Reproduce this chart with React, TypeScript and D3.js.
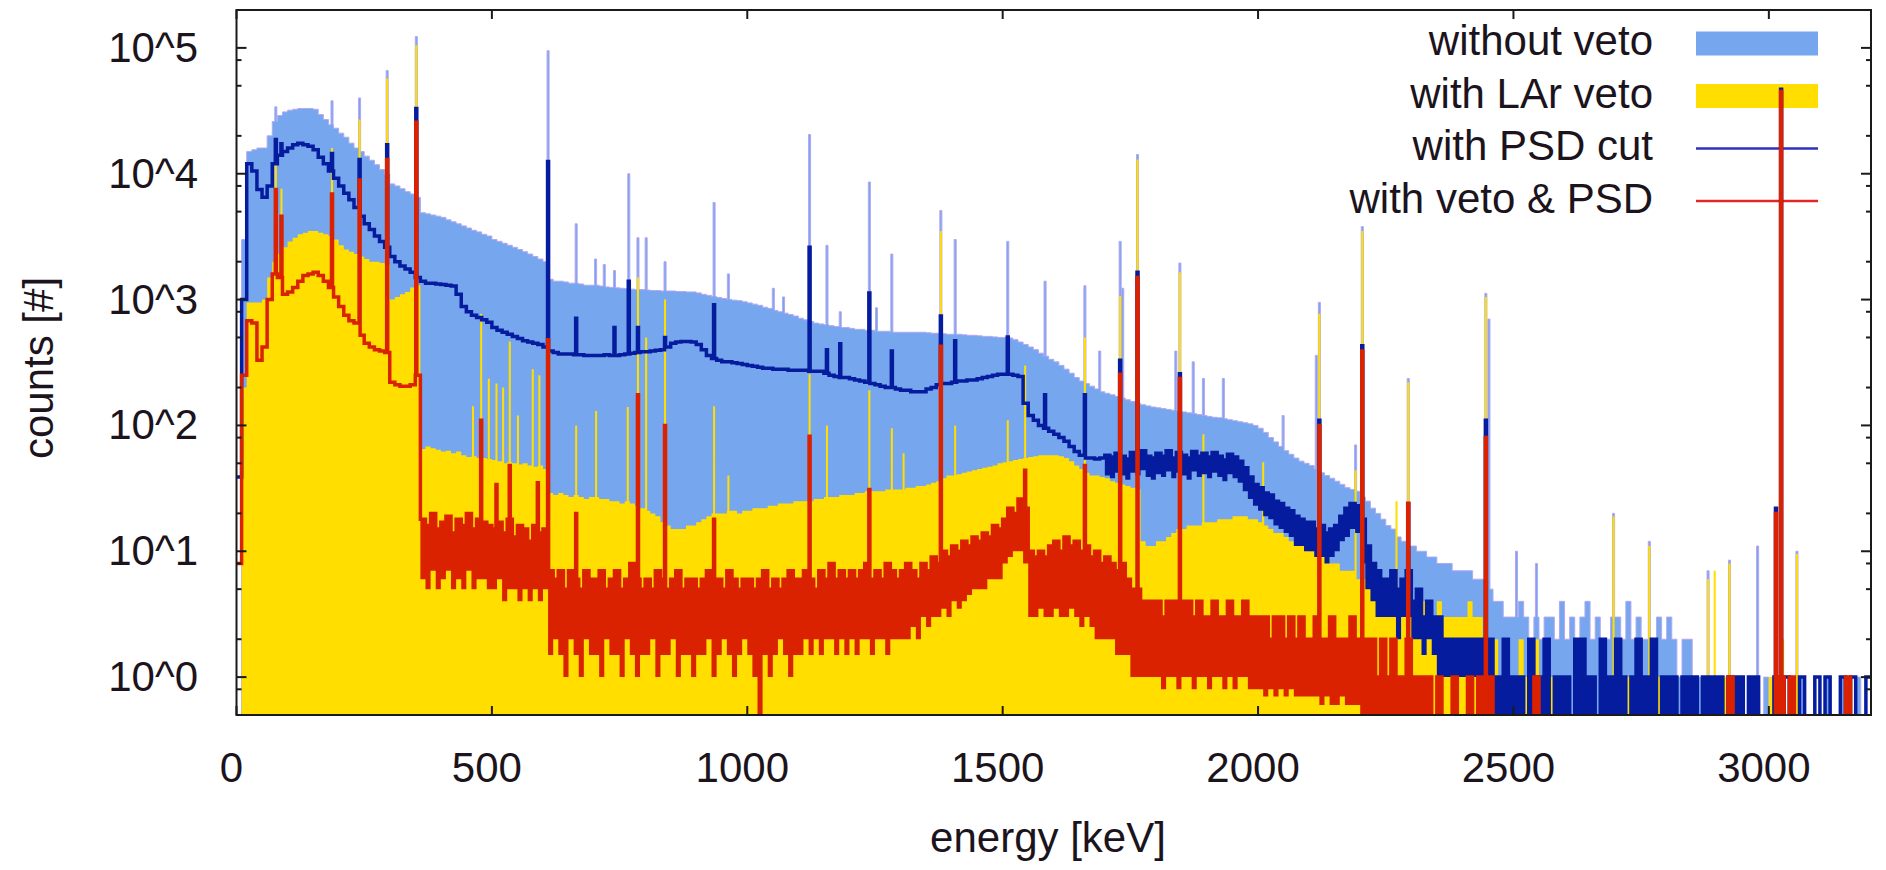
import React from "react";
import * as d3 from "d3";

// ---------------- data (10 keV bins, counts) ----------------
const BIN_WIDTH = 10;
const energyTicks = [0, 500, 1000, 1500, 2000, 2500, 3000];
const countTicks = [1, 10, 100, 1000, 10000, 100000];
const countTickLabels = ["10^0", "10^1", "10^2", "10^3", "10^4", "10^5"];
const minorFactors = [2, 5, 8];
const seriesNames = ["without veto", "with LAr veto", "with PSD cut", "with veto & PSD"];

const withoutVeto = [
  0, 3000, 15000, 15500, 16000, 16000, 20000, 26000, 29000, 31000,
  32000, 32500, 33000, 33000, 33000, 32500, 29500, 27000, 24500, 23000,
  21000, 19500, 17500, 16000, 15000, 13800, 12800, 11800, 10800, 9900,
  8300, 8000, 7600, 7200, 6900, 6500, 4900, 4800, 4700, 4600,
  4500, 4300, 4150, 4000, 3850, 3700, 3550, 3450, 3300, 3200,
  3000, 2900, 2800, 2700, 2600, 2500, 2400, 2300, 2200, 2100,
  2000, 1450, 1400, 1400, 1380, 1350, 1350, 1330, 1300, 1300,
  1300, 1280, 1260, 1250, 1240, 1230, 1220, 1210, 1200, 1200,
  1190, 1180, 1180, 1170, 1170, 1170, 1160, 1160, 1150, 1150,
  1130, 1100, 1080, 1060, 1040, 1020, 1000, 990, 980, 960,
  940, 920, 900, 870, 850, 820, 800, 780, 760, 740,
  710, 690, 670, 650, 640, 630, 620, 610, 600, 600,
  590, 580, 580, 570, 570, 560, 560, 560, 550, 550,
  550, 550, 550, 550, 550, 545, 540, 540, 535, 530,
  530, 530, 525, 520, 520, 515, 510, 510, 505, 500,
  500, 495, 480, 460, 440, 420, 400, 375, 355, 335,
  320, 300, 280, 260, 240, 225, 215, 205, 195, 185,
  180, 175, 170, 165, 160, 155, 150, 146, 143, 140,
  138, 136, 134, 132, 130, 128, 126, 124, 122, 120,
  118, 116, 115, 113, 111, 109, 107, 105, 103, 100,
  95, 88, 80, 74, 68, 63, 59, 55, 52, 50,
  48, 45, 42, 40, 38, 36, 34, 32, 31, 30,
  27, 25, 22, 20, 18, 16, 15, 13, 12, 11,
  11, 10, 10, 9, 9, 8, 8, 8, 7, 7,
  7, 7, 6, 6, 6, 5, 4, 4, 3, 3,
  3, 4, 3, 2, 3, 2, 3, 3, 2, 4,
  2, 3, 2, 3, 4, 2, 3, 2, 2, 3,
  3, 2, 4, 2, 3, 2, 2, 2, 3, 2,
  3, 2, 1, 2, 2, 1, 1, 0, 1, 0,
  0, 1, 0, 1, 0, 0, 1, 0, 0, 1,
  0, 1, 0, 0, 0, 0, 1, 0, 0, 0,
  0, 1, 0, 0, 1, 0, 0, 1, 0, 0,
];

const withLArVeto = [
  0, 200, 950, 950, 950, 1000, 1500, 2000, 2300, 2600,
  2900, 3100, 3300, 3400, 3500, 3500, 3400, 3300, 3200, 3000,
  2700, 2500, 2400, 2300, 2200, 2100, 2000, 2000, 1950, 1900,
  1000, 1050, 1100, 1150, 1250, 1300, 65, 68, 66, 64,
  62, 63, 60, 62, 58, 56, 57, 55, 55, 54,
  53, 52, 50, 51, 50, 49, 50, 48, 47, 48,
  45, 29, 28, 29, 28, 27, 28, 27, 26, 27,
  27, 26, 26, 25, 25, 24, 25, 24, 23, 22,
  21, 20, 19, 17, 16, 15, 15, 15, 16, 16,
  17, 18, 19, 20, 20, 20, 21, 21, 20, 21,
  21, 22, 22, 22, 23, 23, 24, 24, 24, 25,
  25, 25, 25, 26, 26, 27, 27, 27, 28, 28,
  28, 29, 29, 30, 30, 30, 30, 31, 31, 31,
  31, 32, 32, 33, 33, 34, 35, 36, 38, 40,
  40, 41, 42, 43, 44, 45, 46, 47, 48, 50,
  51, 52, 53, 54, 55, 56, 57, 58, 58, 58,
  58, 57, 55, 52, 48, 45, 42, 40, 40, 39,
  38, 36, 35, 34, 33, 32, 31, 12, 11, 11,
  12, 12, 13, 14, 15, 15, 16, 16, 16, 17,
  17, 17, 18, 18, 18, 19, 19, 19, 18, 18,
  17, 16, 15, 14, 14, 13, 12, 12, 11, 11,
  10, 10, 9, 9, 8, 8, 7, 7, 7, 6,
  6, 6, 5, 5, 5, 5, 4, 4, 4, 4,
  4, 5, 4, 4, 3, 4, 3, 3, 3, 3,
  3, 4, 3, 3, 2, 2, 2, 1, 2, 1,
  1, 2, 1, 1, 2, 1, 0, 1, 1, 0,
  1, 0, 0, 1, 0, 0, 0, 1, 0, 0,
  0, 0, 1, 0, 0, 0, 0, 0, 1, 1,
  0, 0, 0, 0, 0, 0, 0, 0, 0, 0,
  0, 1, 1, 0, 0, 0, 0, 0, 0, 0,
  1, 1, 2, 0, 0, 0, 0, 0, 0, 0,
  0, 0, 0, 0, 0, 0, 0, 0, 0, 0,
];

// PSD cut: upper envelope of each 10 keV bin
const withPSDCut = [
  39, 1000, 12000, 10500, 7500, 6500, 8000, 12000, 14000, 15000,
  16000, 17000, 17500, 17000, 16500, 15500, 13500, 12000, 10500, 9200,
  8000, 7000, 6200, 5400, 4600, 4000, 3600, 3200, 2900, 2600,
  2200, 2000, 1850, 1750, 1650, 1500, 1400, 1350, 1350, 1330,
  1320, 1300, 1280, 1100, 880, 800, 750, 720, 690, 660,
  600, 570, 550, 530, 510, 490, 470, 460, 450, 440,
  420, 390, 380, 370, 370, 370, 365, 365, 360, 360,
  360, 360, 365, 360, 360, 365, 370, 375, 380, 385,
  385, 390, 395, 400, 420, 450, 460, 465, 465, 460,
  440, 400, 360, 340, 330, 320, 320, 315, 310, 305,
  300, 295, 290, 285, 285, 280, 280, 280, 275, 275,
  275, 275, 270, 270, 270, 260, 250, 245, 240, 240,
  235, 230, 225, 220, 215, 210, 205, 200, 200, 195,
  190, 190, 185, 185, 185, 195, 200, 210, 215, 215,
  220, 225, 225, 230, 230, 235, 240, 245, 250, 255,
  255, 255, 250, 245, 150, 120, 110, 100, 95, 90,
  85, 80, 75, 68, 62, 58, 55, 55, 54, 55,
  58, 56, 60, 57, 54, 61, 58, 63, 57, 55,
  60, 57, 63, 55, 61, 58, 55, 62, 57, 60,
  56, 61, 57, 53, 59, 56, 52, 46, 39, 34,
  32, 29, 28, 25, 24, 22, 21, 19, 18, 17,
  17, 15, 16, 14, 15, 16, 19, 22, 24, 23,
  18, 11, 8, 7, 6, 6, 7, 5, 6, 7,
  4, 5, 3, 4, 3, 3, 2, 2, 2, 2,
  2, 2, 2, 2, 2, 2, 1, 1, 2, 1,
  1, 1, 0, 2, 1, 1, 2, 0, 1, 1,
  1, 0, 2, 2, 1, 1, 0, 2, 1, 1,
  2, 1, 0, 1, 2, 1, 1, 2, 0, 1,
  1, 1, 0, 1, 1, 1, 0, 1, 1, 1,
  1, 0, 1, 1, 1, 0, 1, 1, 0, 0,
  0, 1, 0, 1, 0, 0, 1, 0, 0, 1,
  0, 1, 0, 0, 1, 0, 1, 0, 0, 1,
];
// PSD cut: lower envelope of the bin-to-bin fluctuation, from 1700 keV on
const PSD_LOW_FIRST_BIN = 170;
const withPSDCutLow = [
  40, 38, 42, 40, 37, 42, 40, 44, 39, 37,
  41, 39, 43, 38, 42, 40, 37, 43, 39, 41,
  38, 42, 39, 36, 41, 38, 35, 30, 26, 23,
  21, 19, 18, 16, 15, 14, 13, 11, 11, 10,
  10, 9, 9, 8, 9, 10, 12, 13, 15, 14,
  8, 5, 4, 3, 3, 3, 3, 2, 3, 3,
  2, 2, 1.5, 2, 1.5, 1, 1, 1, 1, 1,
  1, 1, 1, 1, 1, 1, 0, 0, 0, 0,
  0, 0, 0, 0, 0, 0, 0, 0, 0, 0,
  0, 0, 0, 0, 0, 0, 0, 0, 0, 0,
  0, 0, 0, 0, 0, 0, 0, 0, 0, 0,
  0, 0, 0, 0, 0, 0, 0, 0, 0, 0,
  0, 0, 0, 0, 0, 0, 0, 0, 0, 0,
  0, 1, 0, 1, 0, 0, 1, 0, 0, 1,
  0, 1, 0, 0, 1, 0, 1, 0, 0, 1,
];

// veto & PSD: upper envelope of each 10 keV bin
const withVetoAndPSD = [
  8, 250, 680, 650, 330, 420, 1000, 1600, 1500, 1100,
  1150, 1250, 1400, 1550, 1600, 1650, 1550, 1400, 1250, 1050,
  880, 750, 680, 650, 520, 450, 420, 400, 390, 380,
  220, 210, 205, 205, 210, 250, 18, 16, 20, 15,
  17, 19, 14, 18, 16, 20, 15, 18, 17, 16,
  15, 17, 14, 18, 13, 16, 15, 12, 16, 14,
  15, 7, 6, 7, 5, 7, 6, 5, 7, 6,
  6, 7, 5, 6, 7, 5, 6, 8, 6, 5,
  6, 5, 7, 6, 5, 6, 7, 5, 6, 6,
  5, 6, 7, 5, 6, 5, 7, 6, 5, 6,
  6, 5, 6, 7, 5, 6, 5, 6, 7, 6,
  6, 7, 6, 5, 7, 6, 8, 6, 7, 6,
  7, 6, 7, 8, 6, 7, 6, 8, 7, 6,
  7, 8, 7, 6, 8, 7, 9, 8, 10, 9,
  11, 10, 12, 11, 13, 12, 14, 13, 16, 15,
  18, 22, 20, 26, 22, 10, 9, 10, 9, 11,
  12, 10, 13, 11, 12, 10, 11, 9, 10, 8,
  9, 8, 7, 8, 6, 5, 5, 4, 4, 4,
  4, 3, 4, 4, 3, 4, 4, 3, 4, 3,
  3, 4, 3, 3, 4, 3, 3, 4, 3, 3,
  3, 3, 2, 3, 3, 2, 3, 2, 3, 2,
  2, 3, 2, 2, 3, 2, 2, 2, 3, 2,
  2, 2, 2, 1, 2, 1, 2, 1, 1, 2,
  1, 1, 1, 1, 0, 1, 0, 0, 1, 0,
  0, 1, 0, 1, 1, 1, 0, 0, 0, 0,
  0, 0, 0, 0, 1, 0, 0, 0, 0, 0,
  0, 0, 0, 0, 0, 0, 0, 0, 0, 0,
  0, 0, 0, 0, 0, 0, 0, 0, 0, 0,
  0, 0, 0, 0, 0, 0, 0, 0, 0, 0,
  0, 0, 1, 0, 0, 0, 0, 0, 0, 0,
  0, 0, 1, 0, 1, 0, 0, 0, 0, 0,
  0, 0, 0, 0, 0, 1, 0, 0, 0, 0,
];
// veto & PSD: lower envelope of the fluctuation, from 360 keV on
const BOTH_LOW_FIRST_BIN = 36;
const withVetoAndPSDLow = [
  6, 5, 7, 5,
  6, 7, 5, 6, 5, 7, 5, 6, 6, 5,
  5, 6, 4, 5, 5, 4, 5, 4, 5, 4,
  5, 1.5, 2, 1.5, 1, 2, 1.5, 1, 2, 1.5,
  1.5, 1, 2, 1.5, 1.5, 1, 2, 1.5, 1, 1.5,
  1.5, 2, 1, 1.5, 1.5, 2, 1, 1.5, 1.5, 1,
  1.5, 1.5, 2, 1, 1.5, 2, 1.5, 1, 1.5, 2,
  1.5, 1, 0, 1.5, 1, 1.5, 2, 1.5, 1, 1.5,
  1.5, 2, 1.5, 2, 1.5, 2, 2, 1.5, 2, 1.5,
  2, 1.5, 2, 2, 1.5, 2, 2, 1.5, 2, 2,
  2, 2, 2.5, 2, 3, 2.5, 3, 3, 3.5, 3,
  4, 3.5, 4, 4.5, 5, 5, 5, 6, 6, 6,
  8, 9, 10, 10, 8, 3, 3, 3.5, 3, 3,
  3.5, 3, 3, 3.5, 3, 2.5, 3, 2.5, 2, 2,
  2, 2, 1.5, 1.5, 1.5, 1, 1, 1, 1, 1,
  1, 0.8, 1, 1, 0.8, 1, 1, 0.8, 1, 1,
  0.8, 1, 1, 0.8, 1, 0.8, 1, 1, 0.8, 0.8,
  0.8, 0.7, 0.8, 0.7, 0.8, 0.7, 0.8, 0.7, 0.7, 0.7,
  0.7, 0.7, 0.6, 0.7, 0.6, 0.6, 0.7, 0.6, 0.6, 0.6,
  0, 0, 0, 0, 0, 0, 0, 0, 0, 0,
  0, 0, 0, 0, 0, 0, 0, 0, 0, 0,
  0, 0, 0, 0, 0, 0, 0, 0, 0, 0,
  0, 0, 0, 0, 0, 0, 0, 0, 0, 0,
  0, 0, 0, 0, 0, 0, 0, 0, 0, 0,
  0, 0, 0, 0, 0, 0, 0, 0, 0, 0,
  0, 0, 0, 0, 0, 0, 0, 0, 0, 0,
  0, 0, 0, 0, 0, 0, 0, 0, 0, 0,
  0, 0, 0, 0, 0, 0, 0, 0, 0, 0,
  0, 0, 0, 0, 0, 0, 0, 0, 0, 0,
];

// gamma lines: [energy keV, counts]
const peaksWithoutVeto: [number, number][] = [
  [77, 34000], [187, 38000], [241, 40000], [295, 66000], [352, 123000], [610, 95000],
  [665, 4000], [703, 2100], [720, 1900], [740, 1700], [768, 10000], [786, 3100], [802, 3100],
  [839, 2000], [935, 5900], [963, 1600], [1051, 1230], [1071, 1050], [1122, 20500],
  [1156, 2700], [1182, 800], [1239, 8600], [1253, 860], [1283, 2300], [1379, 5100],
  [1407, 3000], [1510, 2900], [1583, 1400], [1661, 1290], [1690, 390], [1730, 2900],
  [1735, 1230], [1764, 14200], [1839, 390], [1847, 1950], [1873, 320], [1893, 236],
  [1932, 236], [2049, 120], [2114, 360], [2120, 950], [2191, 70], [2204, 3800],
  [2294, 236], [2446, 1120], [2452, 700], [2506, 10], [2545, 8], [2696, 20], [2766, 12],
  [2881, 7], [2923, 8.5], [2978, 11], [3014, 22], [3024, 46000], [3055, 10],
];

const peaksWithLArVeto: [number, number][] = [
  [77, 12000], [88, 7600], [187, 16000], [241, 27000], [295, 57000], [352, 105000],
  [463, 142], [479, 770], [494, 235], [509, 215], [522, 200], [535, 465], [551, 120],
  [580, 280], [593, 250], [610, 800], [665, 100], [704, 130], [766, 140], [786, 1500],
  [802, 500], [839, 1000], [935, 142], [963, 40], [1122, 255], [1156, 100], [1239, 190],
  [1283, 95], [1306, 60], [1379, 3500], [1407, 100], [1510, 110], [1544, 300], [1583, 40],
  [1661, 500], [1730, 1070], [1764, 13000], [1847, 1650], [1893, 85], [2010, 51],
  [2120, 770], [2191, 44], [2204, 3500], [2271, 25], [2294, 220], [2446, 1050],
  [2696, 19], [2766, 11], [2881, 6], [2894, 7], [2923, 8], [3014, 16], [3024, 45000],
  [3055, 9.5],
];

const peaksWithPSDCut: [number, number][] = [
  [77, 18700], [88, 17300], [187, 14500], [241, 13000], [295, 17000], [352, 33000],
  [610, 12500], [665, 710], [740, 600], [768, 1400], [786, 600], [839, 500], [935, 910],
  [1122, 2600], [1156, 400], [1182, 445], [1239, 1130], [1283, 390], [1379, 740],
  [1407, 470], [1510, 505], [1583, 175], [1661, 175], [1730, 330], [1764, 1650],
  [1847, 257], [2120, 110], [2204, 430], [2294, 24], [2446, 110], [3014, 22], [3024, 47000],
];

const peaksWithVetoAndPSD: [number, number][] = [
  [77, 7500], [88, 4600], [187, 6900], [241, 8900], [295, 13000], [352, 25700],
  [479, 110], [509, 34], [535, 48], [590, 35], [610, 480], [665, 20], [786, 175],
  [839, 100], [935, 18], [1122, 82], [1239, 31], [1379, 425], [1544, 44], [1661, 48],
  [1730, 255], [1764, 1500], [1847, 236], [2120, 100], [2204, 390], [2294, 24],
  [2446, 80], [3014, 20], [3024, 45000],
];

// ---------------- layout ----------------
const W = 1886;
const H = 870;
const LEFT = 236.5;
const RIGHT = 1871;
const TOP = 10;
const BOTTOM = 715;
const FONT = "'Liberation Sans', Arial, sans-serif";
const TEXT = "#1c141c";

const C_BLUE = "#76a6ee";
const C_BLUE_EDGE = "#b2a8f2";
const C_YELLOW = "#ffde00";
const C_PSD = "#061c9e";
const C_BOTH = "#da2100";

type Seg = { x0: number; x1: number; v: number };

function buildSegments(bins: number[], peaks: [number, number][], pw: number): Seg[] {
  let segs: Seg[] = bins.map((v, i) => ({ x0: i * BIN_WIDTH, x1: (i + 1) * BIN_WIDTH, v }));
  for (const [e, h] of peaks) {
    const a = e - pw / 2;
    const b = e + pw / 2;
    const out: Seg[] = [];
    for (const s of segs) {
      if (s.x1 <= a || s.x0 >= b) {
        out.push(s);
        continue;
      }
      if (s.x0 < a) out.push({ x0: s.x0, x1: a, v: s.v });
      out.push({ x0: Math.max(s.x0, a), x1: Math.min(s.x1, b), v: Math.max(s.v, h) });
      if (s.x1 > b) out.push({ x0: b, x1: s.x1, v: s.v });
    }
    segs = out;
  }
  return segs;
}

function stepPoints(segs: Seg[]): [number, number][] {
  const pts: [number, number][] = segs.map((s) => [s.x0, s.v]);
  const last = segs[segs.length - 1];
  pts.push([last.x1, last.v]);
  return pts;
}

function bandPoints(high: number[], low: number[], firstBin: number): [number, number, number][] {
  const pts: [number, number, number][] = low.map((lo, i) => [
    (firstBin + i) * BIN_WIDTH,
    high[firstBin + i],
    Math.min(lo, high[firstBin + i]),
  ]);
  const last = pts[pts.length - 1];
  pts.push([(firstBin + low.length) * BIN_WIDTH, last[1], last[2]]);
  return pts;
}

export default function App() {
  const x = d3.scaleLinear().domain([0, 3200]).range([LEFT, RIGHT]);
  const y = d3.scaleLog().domain([0.5, 2e5]).range([BOTTOM, TOP]);
  const yv = (v: number) => (v > 0 ? y(v) : BOTTOM + 12);

  const area = d3
    .area<[number, number]>()
    .x((d) => x(d[0]))
    .y0(BOTTOM + 12)
    .y1((d) => yv(d[1]))
    .curve(d3.curveStepAfter);
  const line = d3
    .line<[number, number]>()
    .x((d) => x(d[0]))
    .y((d) => yv(d[1]))
    .curve(d3.curveStepAfter);
  const band = d3
    .area<[number, number, number]>()
    .x((d) => x(d[0]))
    .y0((d) => yv(d[2]))
    .y1((d) => yv(d[1]))
    .curve(d3.curveStepAfter);

  const blueD = area(stepPoints(buildSegments(withoutVeto, peaksWithoutVeto, 4))) || "";
  const yellowD = area(stepPoints(buildSegments(withLArVeto, peaksWithLArVeto, 4))) || "";
  const psdD = line(stepPoints(buildSegments(withPSDCut, peaksWithPSDCut, 2))) || "";
  const psdBandD = band(bandPoints(withPSDCut, withPSDCutLow, PSD_LOW_FIRST_BIN)) || "";
  const bothD = line(stepPoints(buildSegments(withVetoAndPSD, peaksWithVetoAndPSD, 2))) || "";
  const bothBandD = band(bandPoints(withVetoAndPSD, withVetoAndPSDLow, BOTH_LOW_FIRST_BIN)) || "";

  const minorTicks: number[] = [];
  for (let p = -1; p <= 5; p++) {
    for (const f of minorFactors) {
      const v = f * Math.pow(10, p);
      if (v >= 0.5 && v <= 2e5) minorTicks.push(v);
    }
  }

  const legendX0 = 1696;
  const legendX1 = 1818;
  const legendTextX = 1653;
  const legendY = [43.5, 96, 148.5, 201];

  return (
    <svg
      width={W}
      height={H}
      viewBox={`0 0 ${W} ${H}`}
      style={{ position: "absolute", left: 0, top: 0, background: "#fff" }}
      fontFamily={FONT}
    >
      <defs>
        <clipPath id="plotClip">
          <rect x={LEFT} y={TOP} width={RIGHT - LEFT} height={BOTTOM - TOP} />
        </clipPath>
      </defs>
      <rect x={0} y={0} width={W} height={H} fill="#fff" />

      {/* legend */}
      <g fontSize={42} fill={TEXT}>
        {seriesNames.map((n, i) => (
          <text key={n} x={legendTextX} y={legendY[i] + 11.5} textAnchor="end">
            {n}
          </text>
        ))}
      </g>
      <rect x={legendX0} y={legendY[0] - 12} width={legendX1 - legendX0} height={24} fill={C_BLUE} />
      <rect x={legendX0} y={legendY[1] - 12} width={legendX1 - legendX0} height={24} fill={C_YELLOW} />
      <line x1={legendX0} x2={legendX1} y1={legendY[2]} y2={legendY[2]} stroke="#3030c0" strokeWidth={2.5} />
      <line x1={legendX0} x2={legendX1} y1={legendY[3]} y2={legendY[3]} stroke="#e02828" strokeWidth={2.5} />

      {/* data */}
      <g clipPath="url(#plotClip)">
        <path d={blueD} fill={C_BLUE} stroke={C_BLUE_EDGE} strokeWidth={1} />
        <path d={yellowD} fill={C_YELLOW} />
        <path d={psdBandD} fill={C_PSD} />
        <path d={psdD} fill="none" stroke={C_PSD} strokeWidth={3.5} strokeLinejoin="miter" />
        <path d={bothBandD} fill={C_BOTH} />
        <path d={bothD} fill="none" stroke={C_BOTH} strokeWidth={3.5} strokeLinejoin="miter" />
      </g>

      {/* ticks */}
      <g stroke="#1a1a1a" strokeWidth={2}>
        {energyTicks.map((t) => (
          <g key={"xt" + t}>
            <line x1={x(t)} x2={x(t)} y1={BOTTOM} y2={BOTTOM - 9} />
            <line x1={x(t)} x2={x(t)} y1={TOP} y2={TOP + 9} />
          </g>
        ))}
        {countTicks.map((t) => (
          <g key={"yt" + t}>
            <line x1={LEFT} x2={LEFT + 10} y1={y(t)} y2={y(t)} />
            <line x1={RIGHT} x2={RIGHT - 10} y1={y(t)} y2={y(t)} />
          </g>
        ))}
        {minorTicks.map((t) => (
          <g key={"ym" + t}>
            <line x1={LEFT} x2={LEFT + 5} y1={y(t)} y2={y(t)} />
            <line x1={RIGHT} x2={RIGHT - 5} y1={y(t)} y2={y(t)} />
          </g>
        ))}
      </g>

      {/* frame */}
      <rect
        x={LEFT}
        y={TOP}
        width={RIGHT - LEFT}
        height={BOTTOM - TOP}
        fill="none"
        stroke="#1a1a1a"
        strokeWidth={2}
      />

      {/* tick labels */}
      <g fontSize={42} fill={TEXT}>
        {energyTicks.map((t) => (
          <text key={"xl" + t} x={x(t) - 5} y={782} textAnchor="middle">
            {t}
          </text>
        ))}
        {countTicks.map((t, i) => (
          <text key={"yl" + t} x={198} y={y(t) + 14} textAnchor="end">
            {countTickLabels[i]}
          </text>
        ))}
        <text x={1048} y={852} textAnchor="middle">
          energy [keV]
        </text>
        <text x={53} y={368} textAnchor="middle" transform="rotate(-90 53 368)">
          counts [#]
        </text>
      </g>
    </svg>
  );
}
